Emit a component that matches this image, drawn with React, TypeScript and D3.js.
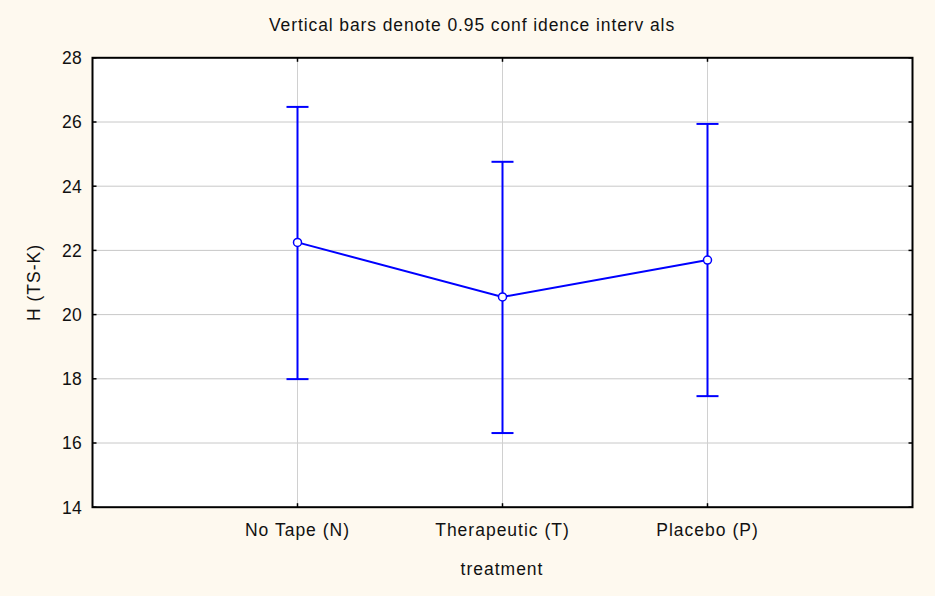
import React from "react";
import * as d3 from "d3";

const categories = ["No Tape (N)", "Therapeutic (T)", "Placebo (P)"];
const means = [22.25, 20.55, 21.7];
const lower = [17.99, 16.31, 17.46];
const upper = [26.47, 24.76, 25.94];
const yTicks = [14, 16, 18, 20, 22, 24, 26, 28];
const title = "Vertical bars denote 0.95 conf idence interv als";
const yLabel = "H (TS-K)";
const xLabel = "treatment";

const W = 935;
const H = 596;
const left = 92.5;
const right = 912.5;
const top = 57.8;
const bottom = 507.2;

export default function App() {
  const x = d3.scaleLinear().domain([0, categories.length + 1]).range([left, right]);
  const y = d3.scaleLinear().domain([14, 28]).range([bottom, top]);
  const line = d3
    .line<number>()
    .x((_, i) => x(i + 1))
    .y((d) => y(d));
  const font = "'Liberation Sans', Arial, sans-serif";
  const blue = "#0000ff";
  const fs = 17.5;
  const ls = 1;
  return (
    <div style={{ position: "fixed", left: 0, top: 0, width: W, height: H }}>
      <svg width={W} height={H} style={{ display: "block" }} fontFamily={font}>
        <rect x={0} y={0} width={W} height={H} fill="#fef9ef" />
        <rect x={left} y={top} width={right - left} height={bottom - top} fill="#ffffff" />
        {yTicks.slice(1, -1).map((t) => (
          <line key={"gy" + t} x1={left} x2={right} y1={y(t)} y2={y(t)} stroke="#c8c8c8" strokeWidth={1} />
        ))}
        {categories.map((c, i) => (
          <line key={"gx" + c} x1={x(i + 1)} x2={x(i + 1)} y1={top} y2={bottom} stroke="#d0d0d0" strokeWidth={1} />
        ))}
        {yTicks.map((t) => (
          <g key={"t" + t}>
            <line x1={left} x2={left + 4} y1={y(t)} y2={y(t)} stroke="#000" strokeWidth={1.5} />
            <line x1={right - 4} x2={right} y1={y(t)} y2={y(t)} stroke="#000" strokeWidth={1.5} />
            <text x={82} y={y(t)} dy="0.36em" textAnchor="end" fontSize={fs} letterSpacing={0.3} fill="#111">
              {t}
            </text>
          </g>
        ))}
        {categories.map((c, i) => (
          <g key={"xt" + c}>
            <line x1={x(i + 1)} x2={x(i + 1)} y1={bottom} y2={bottom - 4} stroke="#000" strokeWidth={1.5} />
            <line x1={x(i + 1)} x2={x(i + 1)} y1={top} y2={top + 4} stroke="#000" strokeWidth={1.5} />
            <text x={x(i + 1)} y={536} textAnchor="middle" fontSize={fs} letterSpacing={ls} fill="#111">
              {c}
            </text>
          </g>
        ))}
        <rect x={left} y={top} width={right - left} height={bottom - top} fill="none" stroke="#000" strokeWidth={2} />
        {categories.map((c, i) => (
          <g key={"eb" + c} stroke={blue} strokeWidth={2}>
            <line x1={x(i + 1)} x2={x(i + 1)} y1={y(lower[i])} y2={y(upper[i])} />
            <line x1={x(i + 1) - 11} x2={x(i + 1) + 11} y1={y(lower[i])} y2={y(lower[i])} />
            <line x1={x(i + 1) - 11} x2={x(i + 1) + 11} y1={y(upper[i])} y2={y(upper[i])} />
          </g>
        ))}
        <path d={line(means) || ""} fill="none" stroke={blue} strokeWidth={2} />
        {means.map((m, i) => (
          <circle key={"p" + i} cx={x(i + 1)} cy={y(m)} r={4} fill="#fff" stroke={blue} strokeWidth={1.5} />
        ))}
        <text x={472} y={31} textAnchor="middle" fontSize={fs} letterSpacing={0.9} fill="#111">
          {title}
        </text>
        <text x={502} y={575} textAnchor="middle" fontSize={fs} letterSpacing={ls} fill="#111">
          {xLabel}
        </text>
        <text transform={`translate(40,${(top + bottom) / 2}) rotate(-90)`} textAnchor="middle" fontSize={fs} letterSpacing={ls} fill="#111">
          {yLabel}
        </text>
      </svg>
    </div>
  );
}
